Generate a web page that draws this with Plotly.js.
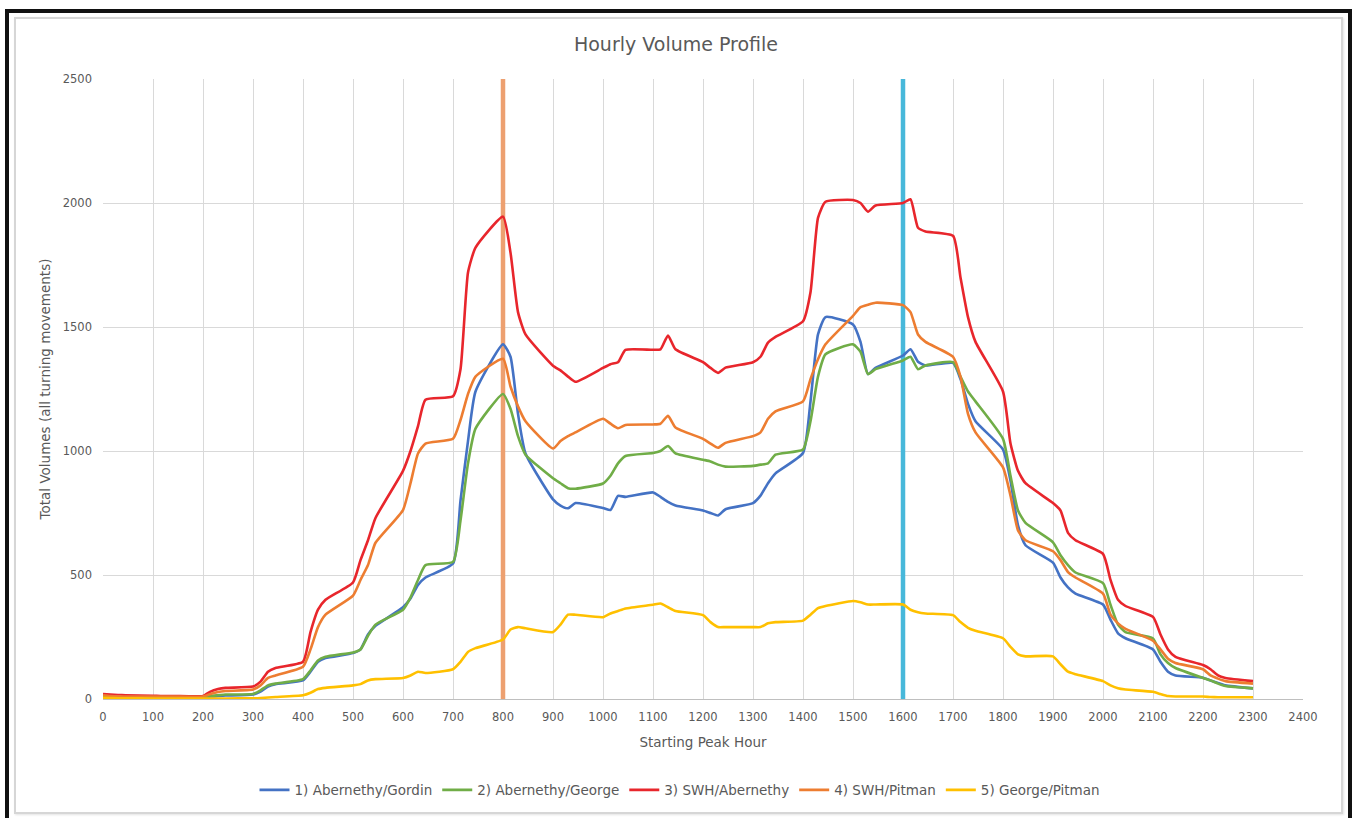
<!DOCTYPE html>
<html>
<head>
<meta charset="utf-8">
<script src="https://cdn.plot.ly/plotly-3.0.1.min.js"></script>
<style>
  html, body { margin: 0; padding: 0; background: #ffffff; }
  #wrap { position: relative; width: 1356px; height: 818px; overflow: hidden; background: #ffffff; }
  #chart { position: absolute; left: 0; top: 0; width: 1356px; height: 818px; }
  #outer { position: absolute; left: 5px; top: 9px; width: 1339px; height: 830px; border: 4px solid #111; pointer-events: none; }
  #inner { position: absolute; left: 14px; top: 17px; width: 1325px; height: 793px; border: 2px solid #d6d6d6; pointer-events: none; box-shadow: 1px 1px 2px #e4e4e4; }
</style>
</head>
<body>
<div id="wrap">
  <div id="chart"></div>
  <div id="inner"></div>
  <div id="outer"></div>
</div>
<script>
// Starting peak hour (hhmm), quarter-hour steps
const startHours = [
  0,15,30,45, 100,115,130,145, 200,215,230,245, 300,315,330,345,
  400,415,430,445, 500,515,530,545, 600,615,630,645, 700,715,730,745,
  800,815,830,845, 900,915,930,945, 1000,1015,1030,1045, 1100,1115,1130,1145,
  1200,1215,1230,1245, 1300,1315,1330,1345, 1400,1415,1430,1445, 1500,1515,1530,1545,
  1600,1615,1630,1645, 1700,1715,1730,1745, 1800,1815,1830,1845, 1900,1915,1930,1945,
  2000,2015,2030,2045, 2100,2115,2130,2145, 2200,2215,2230,2245, 2300
];

const seriesNames = ["1) Abernethy/Gordin", "2) Abernethy/George", "3) SWH/Abernethy", "4) SWH/Pitman", "5) George/Pitman"];

const abernethyGordin = [
  10,8,7,6, 5,5,5,5, 5,10,12,14, 18,30,50,60,
  75,110,150,165, 185,200,260,295, 370,405,460,490, 546,800,1040,1240,
  1430,1380,1150,990, 805,780,769,790, 770,762,819,815, 833,815,795,780,
  760,750,740,765, 790,820,870,910, 992,1200,1470,1540, 1510,1440,1310,1335,
  1385,1410,1360,1345, 1355,1290,1190,1120, 1006,880,700,620, 550,490,450,425,
  381,320,265,245, 200,150,110,95, 86,75,65,55, 43
];

const abernethyGeorge = [
  8,7,6,5, 5,5,5,5, 5,12,15,18, 20,35,55,62,
  80,115,155,170, 188,200,255,300, 360,410,480,540, 553,720,950,1090,
  1230,1170,1060,985, 890,870,850,848, 869,900,950,980, 992,1000,1020,990,
  965,958,945,937, 940,945,950,985, 1006,1120,1300,1390, 1430,1400,1310,1330,
  1365,1380,1330,1345, 1358,1300,1240,1200, 1049,900,760,710, 632,580,540,510,
  467,380,300,270, 244,180,145,125, 85,75,62,52, 43
];

const swhAbernethy = [
  20,18,16,15, 13,12,12,12, 12,30,40,45, 50,70,110,125,
  150,270,360,400, 470,560,640,730, 920,1000,1100,1207, 1221,1330,1720,1820,
  1945,1800,1560,1470, 1344,1325,1300,1279, 1335,1350,1358,1408, 1408,1410,1466,1410,
  1358,1335,1315,1336, 1358,1380,1437,1460, 1523,1640,1940,2005, 2012,2000,1965,1990,
  2000,2015,1900,1885, 1868,1700,1540,1440, 1240,1030,920,870, 790,760,670,640,
  585,480,400,375, 331,260,200,170, 137,120,95,85, 72
];

const swhPitman = [
  15,12,11,10, 10,10,10,10, 10,20,28,32, 38,55,85,95,
  130,200,290,340, 417,480,540,630, 762,870,990,1030, 1049,1125,1230,1300,
  1372,1260,1180,1120, 1010,1040,1060,1075, 1130,1110,1092,1105, 1107,1110,1142,1095,
  1049,1030,1013,1033, 1060,1075,1130,1160, 1200,1290,1370,1430, 1545,1580,1590,1598,
  1588,1560,1470,1440, 1380,1300,1150,1075, 934,820,680,640, 596,560,512,490,
  425,340,305,283, 235,200,162,145, 120,95,82,72, 62
];

const georgePitman = [
  5,4,3,3, 2,2,2,2, 2,2,2,2, 3,4,6,8,
  15,25,40,45, 55,60,75,80, 85,95,110,105, 120,150,190,205,
  240,280,290,285, 270,300,340,340, 330,345,355,365, 380,385,370,355,
  338,310,290,290, 290,290,305,310, 316,340,366,375, 395,390,381,381,
  381,360,350,345, 338,310,287,275, 245,210,180,172, 172,140,110,100,
  72,55,43,38, 29,20,12,10, 10,8,7,7, 7
];

const seriesValues = [abernethyGordin, abernethyGeorge, swhAbernethy, swhPitman, georgePitman];
const seriesColors = ["#4472C4", "#70AD47", "#E8262C", "#ED7D31", "#FFC000"];

// Highlighted peak hours (AM, PM)
const peakHours = [800, 1600];
const peakColors = ["#EDA070", "#48B8DA"];

const xTicks = [0,100,200,300,400,500,600,700,800,900,1000,1100,1200,1300,1400,1500,1600,1700,1800,1900,2000,2100,2200,2300,2400];
const yTicks = [0,500,1000,1500,2000,2500];
const yMax = 2500;

const FONT = "'DejaVu Sans', 'Open Sans', sans-serif";

// peak-hour markers drawn as traces so they sit above the grid but below the series
const markerTraces = peakHours.map((h, i) => ({
  type: "scatter",
  mode: "lines",
  x: [h, h],
  y: [0, yMax],
  line: { color: peakColors[i], width: 4.5 },
  showlegend: false,
  hoverinfo: "skip",
  cliponaxis: false
}));

const seriesTraces = seriesNames.map((name, i) => ({
  type: "scatter",
  mode: "lines",
  name: name,
  x: startHours,
  y: seriesValues[i],
  line: { color: seriesColors[i], width: 2.6, shape: "spline", smoothing: 0.5 },
  hoverinfo: "x+y+name"
}));

const tickFont = { family: FONT, size: 11.5, color: "#595959" };

const layout = {
  width: 1356, height: 818,
  margin: { l: 103, r: 53, t: 79, b: 119, autoexpand: false },
  paper_bgcolor: "rgba(0,0,0,0)",
  plot_bgcolor: "#ffffff",
  title: {
    text: "Hourly Volume Profile",
    font: { family: FONT, size: 19, color: "#595959" },
    x: (676 - 103) / 1200, xref: "paper", xanchor: "center",
    y: 1 - 44 / 818, yref: "container", yanchor: "middle"
  },
  xaxis: {
    range: [0, 2400],
    tickvals: xTicks,
    ticktext: xTicks.map(String),
    showgrid: true, gridcolor: "#d9d9d9", gridwidth: 1,
    zeroline: false,
    showline: true, linecolor: "#bfbfbf", linewidth: 1,
    ticks: "", ticklabelstandoff: 7,
    tickfont: tickFont,
    title: { text: "Starting Peak Hour", font: { family: FONT, size: 13.5, color: "#595959" }, standoff: 14 },
    fixedrange: true
  },
  yaxis: {
    range: [0, yMax],
    tickvals: yTicks,
    ticktext: yTicks.map(String),
    showgrid: true, gridcolor: "#d9d9d9", gridwidth: 1,
    zeroline: false, showline: false,
    ticks: "", ticklabelstandoff: 10,
    tickfont: tickFont,
    title: { text: "Total Volumes (all turning movements)", font: { family: FONT, size: 13.5, color: "#595959" }, standoff: 8 },
    fixedrange: true
  },
  showlegend: true,
  legend: {
    orientation: "h",
    x: (680 - 103) / 1200, xanchor: "center",
    y: -0.147, yanchor: "middle",
    font: { family: FONT, size: 13.5, color: "#595959" },
    tracegroupgap: 0
  }
};

Plotly.newPlot("chart", markerTraces.concat(seriesTraces), layout, { displayModeBar: false, staticPlot: true });
</script>
</body>
</html>
